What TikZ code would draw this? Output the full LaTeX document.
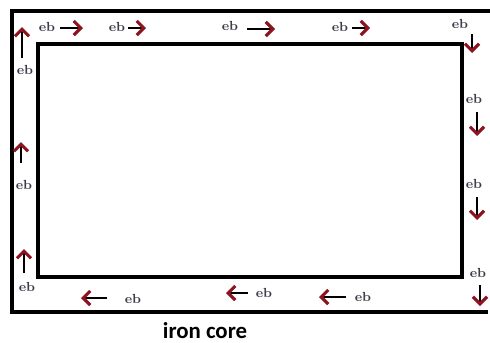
\documentclass[tikz,border=0pt]{standalone}
\usepackage{fontspec}
\newfontfamily\labelfont{Carlito}
\usetikzlibrary{arrows.meta}
\definecolor{barbred}{RGB}{140,20,30}
\definecolor{ebgray}{RGB}{60,60,75}

\tikzset{
  core/.style={black,line width=2.6pt},
  flux/.style={black,line width=1.1pt,-{Straight Barb[color=barbred,length=4pt,width=8pt,line width=1.8pt]}},
  eb/.style={text=ebgray,font=\fontsize{7.5}{8}\selectfont\bfseries,inner sep=0pt}
}

\begin{document}
\begin{tikzpicture}[x=0.02cm,y=-0.02cm]

\useasboundingbox (0,0) rectangle (490,342);

% core outline
\coordinate (OTR) at (490,11);
\coordinate (OTL) at (12,11);
\coordinate (OBL) at (12,312);
\coordinate (OBR) at (488,312);
\draw[core] (OTR)--(OTL)--(OBL)--(OBR);

\coordinate (ITL) at (38,44);
\coordinate (IBR) at (462,277);
\draw[core] (ITL) rectangle (IBR);

% top limb
\node[eb] (t1) at (47,27) {eb};
\coordinate (t1a) at (60,28);  \coordinate (t1b) at (83,28);
\draw[flux] (t1a)--(t1b);
\node[eb] (t2) at (117,27) {eb};
\coordinate (t2a) at (128,28); \coordinate (t2b) at (146,28);
\draw[flux] (t2a)--(t2b);
\node[eb] (t3) at (230,26) {eb};
\coordinate (t3a) at (247,29); \coordinate (t3b) at (275,29);
\draw[flux] (t3a)--(t3b);
\node[eb] (t4) at (340,27) {eb};
\coordinate (t4a) at (352,28); \coordinate (t4b) at (370,28);
\draw[flux] (t4a)--(t4b);
\node[eb] (t5) at (460,24) {eb};
\coordinate (t5a) at (472,34); \coordinate (t5b) at (472,53);
\draw[flux] (t5a)--(t5b);

% right limb
\node[eb] (r1) at (474,99) {eb};
\coordinate (r1a) at (477,112); \coordinate (r1b) at (477,136);
\draw[flux] (r1a)--(r1b);
\node[eb] (r2) at (474,184) {eb};
\coordinate (r2a) at (477,197); \coordinate (r2b) at (477,220);
\draw[flux] (r2a)--(r2b);
\node[eb] (r3) at (478,273) {eb};
\coordinate (r3a) at (480,285); \coordinate (r3b) at (480,306);
\draw[flux] (r3a)--(r3b);

% bottom limb
\node[eb] (b1) at (363,297) {eb};
\coordinate (b1a) at (346,297); \coordinate (b1b) at (319,297);
\draw[flux] (b1a)--(b1b);
\node[eb] (b2) at (264,293) {eb};
\coordinate (b2a) at (248,293); \coordinate (b2b) at (226,293);
\draw[flux] (b2a)--(b2b);
\node[eb] (b3) at (133,299) {eb};
\coordinate (b3a) at (107,298); \coordinate (b3b) at (81,298);
\draw[flux] (b3a)--(b3b);

% left limb
\node[eb] (l1) at (27,287) {eb};
\coordinate (l1a) at (24,273); \coordinate (l1b) at (24,249);
\draw[flux] (l1a)--(l1b);
\node[eb] (l2) at (24,185) {eb};
\coordinate (l2a) at (21,163); \coordinate (l2b) at (21,142);
\draw[flux] (l2a)--(l2b);
\node[eb] (l3) at (25,70) {eb};
\coordinate (l3a) at (22,58); \coordinate (l3b) at (22,27);
\draw[flux] (l3a)--(l3b);

\node[font=\labelfont\bfseries\fontsize{13}{15}\selectfont] (core) at (205,331) {iron core};

\end{tikzpicture}
\end{document}
